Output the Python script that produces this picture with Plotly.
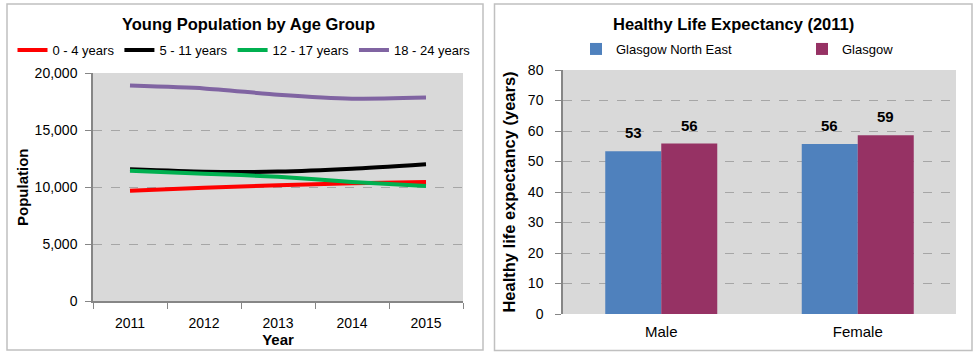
import plotly.graph_objects as go

# ---- data: left chart ----
years = ["2011", "2012", "2013", "2014", "2015"]
age_0_4 = [9680, 9940, 10150, 10320, 10440]
age_5_11 = [11550, 11340, 11350, 11600, 12000]
age_12_17 = [11430, 11170, 10900, 10440, 10090]
age_18_24 = [18900, 18650, 18100, 17750, 17850]
pop_ticks = [0, 5000, 10000, 15000, 20000]
pop_tick_text = ["0", "5,000", "10,000", "15,000", "20,000"]

# ---- data: right chart ----
sexes = ["Male", "Female"]
glasgow_ne = [53.4, 55.7]
glasgow = [55.9, 58.6]

W, H = 976, 357
FONT = "Liberation Sans"


def px(x):
    return x / W


def py(y):
    return 1 - y / H


fig = go.Figure()

series = [
    ("0 - 4 years", age_0_4, "#ff0000"),
    ("5 - 11 years", age_5_11, "#000000"),
    ("12 - 17 years", age_12_17, "#00b050"),
    ("18 - 24 years", age_18_24, "#8064a2"),
]
for name, vals, col in series:
    fig.add_trace(go.Scatter(
        x=years, y=vals, name=name, mode="lines",
        line=dict(color=col, width=4, shape="spline", smoothing=0.6),
        xaxis="x", yaxis="y", legend="legend",
    ))

bar_series = [
    ("Glasgow North East", glasgow_ne, "#4f81bd", -28),
    ("Glasgow", glasgow, "#963264", 28),
]
annotations = []
for name, vals, col, shift in bar_series:
    fig.add_trace(go.Bar(
        x=sexes, y=vals, name=name, marker_color=col, marker_line_width=0,
        xaxis="x2", yaxis="y2", legend="legend2",
    ))
    for cat, v in zip(sexes, vals):
        annotations.append(dict(
            x=cat, y=v, xref="x2", yref="y2", text=f"<b>{v:.0f}</b>",
            showarrow=False, xanchor="center", yanchor="bottom",
            xshift=shift, yshift=8, font=dict(size=15, color="#000000"),
        ))

axis_line = "#868686"
grid_col = "#a6a6a6"

annotations += [
    dict(text="<b>Young Population by Age Group</b>", x=px(248), y=py(24),
         xref="paper", yref="paper", showarrow=False, font=dict(size=16.5),
         xanchor="center", yanchor="middle"),
    dict(text="<b>Healthy Life Expectancy (2011)</b>", x=px(733), y=py(24),
         xref="paper", yref="paper", showarrow=False, font=dict(size=16.5),
         xanchor="center", yanchor="middle"),
    dict(text="<b>Population</b>", x=px(22), y=py(187), textangle=-90,
         xref="paper", yref="paper", showarrow=False, font=dict(size=15),
         xanchor="center", yanchor="middle"),
]

fig.update_layout(
    width=W, height=H,
    margin=dict(l=0, r=0, t=0, b=0, autoexpand=False),
    paper_bgcolor="#ffffff",
    plot_bgcolor="#d9d9d9",
    font=dict(family=FONT, size=13, color="#000000"),
    barmode="group", bargap=0.43, bargroupgap=0,
    xaxis=dict(
        domain=[px(93), px(463)], anchor="y", type="category", automargin=False,
        range=[-0.5, 4.5],
        showline=True, linecolor=axis_line, linewidth=1.5,
        ticks="outside", tickson="boundaries", ticklen=6, tickcolor=axis_line,
        ticklabelstandoff=8,
        showgrid=False, tickfont=dict(size=14),
        title=dict(text="<b>Year</b>", font=dict(size=15), standoff=3),
    ),
    yaxis=dict(
        domain=[py(301), py(73)], anchor="x", range=[0, 20000], automargin=False,
        tickvals=pop_ticks, ticktext=pop_tick_text,
        showline=True, linecolor=axis_line, linewidth=1.5,
        ticks="outside", ticklen=6, tickcolor=axis_line, ticklabelstandoff=5,
        showgrid=False, zeroline=False, tickfont=dict(size=14),
        minor=dict(tickmode="array", tickvals=[5000, 10000, 15000], showgrid=True,
                   gridcolor=grid_col, griddash="dash", gridwidth=1, ticks=""),
    ),
    xaxis2=dict(
        domain=[px(563), px(956)], anchor="y2", type="category", automargin=False,
        showline=False, ticks="", showgrid=False, tickfont=dict(size=15),
        ticklabelstandoff=7,
    ),
    yaxis2=dict(
        domain=[py(314), py(70)], anchor="x2", range=[0, 80], dtick=10, automargin=False,
        showline=True, linecolor=axis_line, linewidth=1.5,
        ticks="outside", ticklen=6, tickcolor=axis_line, ticklabelstandoff=9,
        showgrid=True, gridcolor=grid_col, griddash="dash", gridwidth=1,
        zeroline=False, tickfont=dict(size=14),
        title=dict(text="<b>Healthy life expectancy (years)</b>", font=dict(size=16.5), standoff=8),
    ),
    legend=dict(
        orientation="h", x=px(244), xanchor="center", y=py(50), yanchor="middle",
        font=dict(size=13), bgcolor="rgba(0,0,0,0)", itemwidth=30,
    ),
    legend2=dict(
        orientation="h", x=px(576), xanchor="left", y=py(49), yanchor="middle",
        font=dict(size=13), bgcolor="rgba(0,0,0,0)",
        entrywidth=181, entrywidthmode="pixels",
    ),
    annotations=annotations,
    shapes=[
        dict(type="rect", xref="paper", yref="paper", x0=px(7), x1=px(483),
             y0=py(350), y1=py(4), line=dict(color="#c0c0c0", width=1.5)),
        dict(type="rect", xref="paper", yref="paper", x0=px(494.5), x1=px(972),
             y0=py(350.5), y1=py(4), line=dict(color="#c0c0c0", width=1.5)),
    ],
)

fig.write_html("out.html", config={"displayModeBar": False},
               post_script="document.body.style.margin='0';")
